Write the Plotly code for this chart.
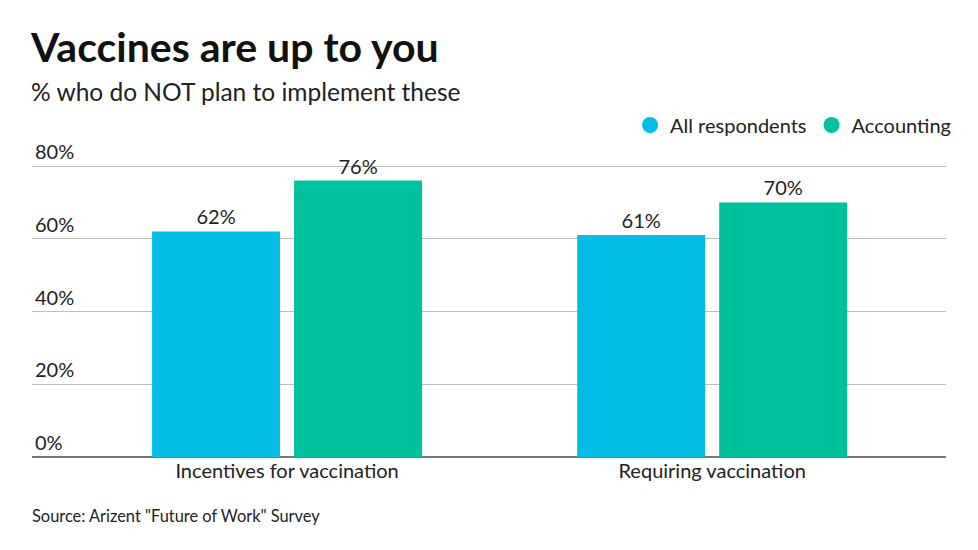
import plotly.graph_objects as go

categories = ["Incentives for vaccination", "Requiring vaccination"]
all_respondents = [62, 61]
accounting = [76, 70]
series_names = ["All respondents", "Accounting"]
colors = ["#03BDE5", "#00C19E"]
tick_values = [0, 20, 40, 60, 80]
tick_labels = ["0%", "20%", "40%", "60%", "80%"]

FONT = "Lato"
fig = go.Figure()
for name, vals, col in zip(series_names, [all_respondents, accounting], colors):
    fig.add_trace(go.Bar(
        x=categories, y=vals, name=name, marker_color=col, marker_line_width=0,
        text=[f"{v}%" for v in vals], textposition="outside",
        textfont=dict(family=FONT, size=20, color="#222"),
        cliponaxis=False, showlegend=False,
    ))
for name, col in zip(series_names, colors):
    fig.add_trace(go.Scatter(
        x=[None], y=[None], mode="markers", name=name,
        marker=dict(symbol="circle", size=16, color=col),
    ))

# page offset of 8px (body margin) compensated in margins
OFF = 8
TOP, BOT = 128, 457
H = BOT - TOP
def py(px):
    return (BOT - px) / H

fig.update_layout(
    width=978, height=550,
    margin=dict(l=32 - OFF, r=978 - (946 - OFF), t=TOP - OFF, b=550 - (BOT - OFF)),
    paper_bgcolor="white", plot_bgcolor="white",
    barmode="group", bargap=0.332, bargroupgap=0.0986,
    font=dict(family=FONT, color="#222"),
    xaxis=dict(range=[-0.6, 1.55], showgrid=False, ticks="",
               tickfont=dict(family=FONT, size=20, color="#222"),
               showline=False),
    yaxis=dict(range=[0, 80 * H / 291], tickvals=tick_values, ticktext=tick_labels,
               ticklabelposition="inside top",
               tickfont=dict(family=FONT, size=20, color="#222"),
               showgrid=True, gridcolor="#bdbdbd", gridwidth=1,
               zeroline=True, zerolinecolor="#777", zerolinewidth=1.5),
    legend=dict(orientation="h", x=1.011, xanchor="right", y=py(125), yanchor="middle",
                font=dict(family=FONT, size=20, color="#222"),
                itemwidth=30, traceorder="normal"),
    annotations=[
        dict(text="<b>Vaccines are up to you</b>", x=-0.004, xref="paper", xanchor="left",
             y=py(46), yref="paper", yanchor="middle", showarrow=False,
             font=dict(family=FONT, size=41, color="#111")),
        dict(text="% who do NOT plan to implement these", x=-0.003, xref="paper", xanchor="left",
             y=py(91), yref="paper", yanchor="middle", showarrow=False,
             font=dict(family=FONT, size=24.5, color="#222")),
        dict(text='Source: Arizent "Future of Work" Survey', x=-0.002, xref="paper", xanchor="left",
             y=py(515), yref="paper", yanchor="middle", showarrow=False,
             font=dict(family=FONT, size=16.4, color="#222")),
    ],
)
fig.write_html("out.html")
